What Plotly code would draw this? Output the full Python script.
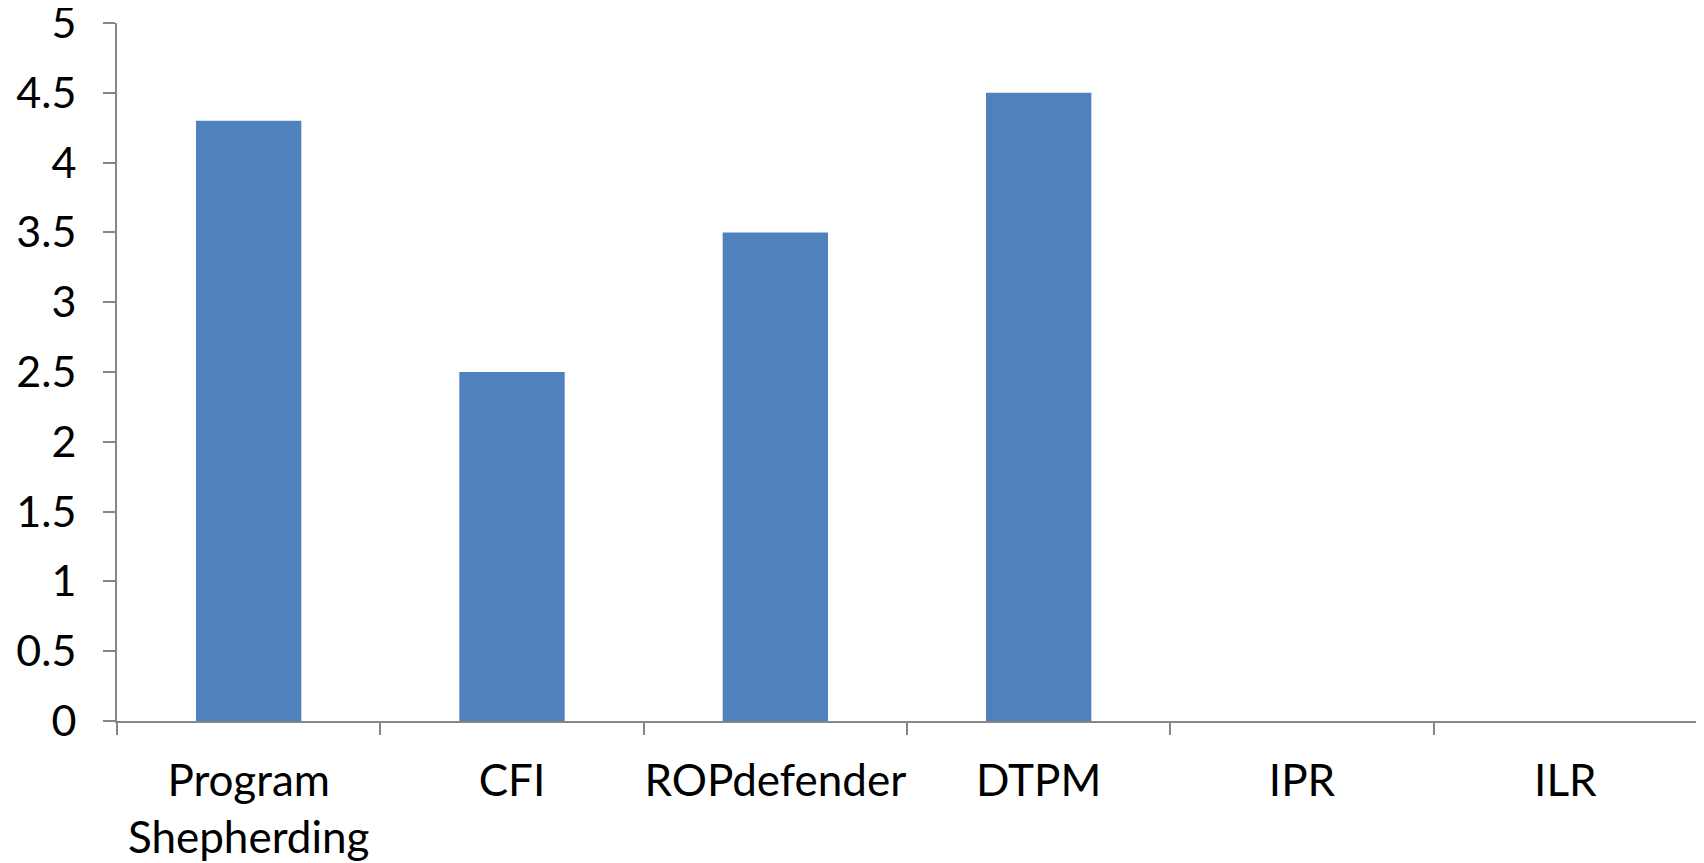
import plotly.graph_objects as go

categories = ["Program<br>Shepherding", "CFI", "ROPdefender", "DTPM", "IPR", "ILR"]
values = [4.3, 2.5, 3.5, 4.5, 0, 0]
y_ticks = [0, 0.5, 1, 1.5, 2, 2.5, 3, 3.5, 4, 4.5, 5]

fig = go.Figure(
    go.Bar(
        x=categories,
        y=values,
        marker=dict(color="#4F81BD", line=dict(width=0)),
    )
)

axis_color = "#868686"
# page body has an 8px default margin; size/margins compensate for it
fig.update_layout(
    width=1696,
    height=855,
    margin=dict(l=109, r=7, t=15, b=142),
    plot_bgcolor="white",
    paper_bgcolor="white",
    bargap=0.6,
    showlegend=False,
    font=dict(family="Lato, 'Open Sans', sans-serif", color="black"),
)
fig.update_xaxes(
    showline=True,
    linecolor=axis_color,
    linewidth=2,
    ticks="outside",
    tickson="boundaries",
    ticklen=12,
    tickwidth=2,
    tickcolor=axis_color,
    showgrid=False,
    tickangle=0,
    tickfont=dict(size=44),
    ticklabelstandoff=20,
    automargin=False,
)
fig.update_yaxes(
    range=[0, 5.0001],
    tickvals=y_ticks,
    ticktext=[f"{v:g}" for v in y_ticks],
    showline=True,
    linecolor=axis_color,
    linewidth=2,
    ticks="outside",
    ticklen=12,
    tickwidth=2,
    tickcolor=axis_color,
    showgrid=False,
    zeroline=False,
    tickfont=dict(size=43),
    ticklabelstandoff=18,
    ticklabeloverflow="allow",
    automargin=False,
)

fig.write_html("out.html")
